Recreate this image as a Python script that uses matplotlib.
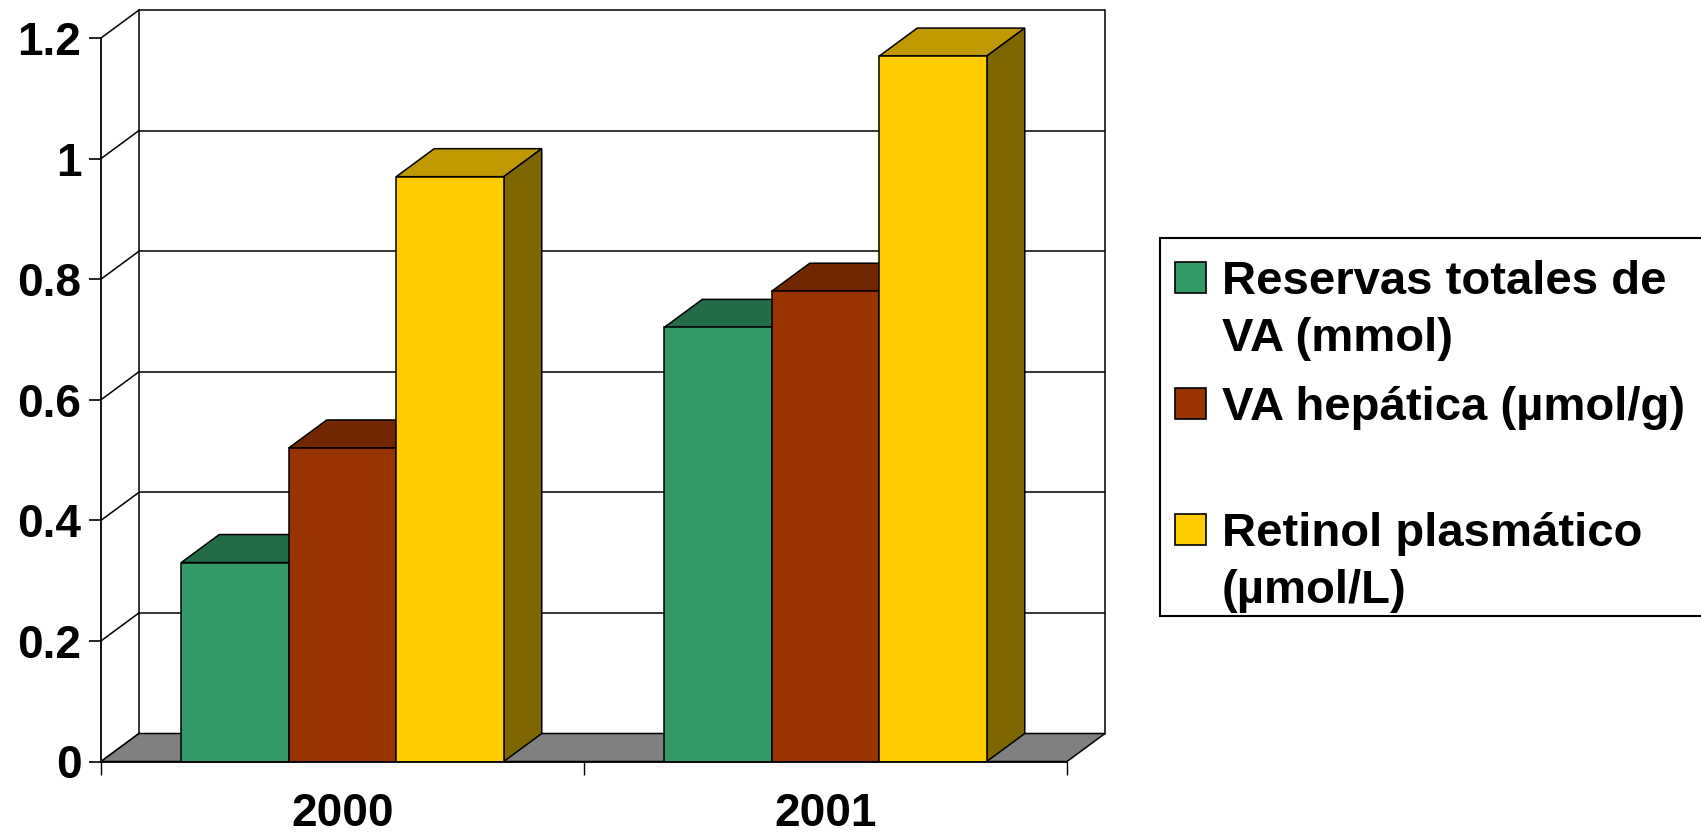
import matplotlib
matplotlib.use('Agg')
import matplotlib.pyplot as plt
from matplotlib.patches import Polygon, Rectangle
import numpy as np

# ---- data ----
categories = ['2000', '2001']
series_labels = [['Reservas totales de', 'VA (mmol)'],
                 ['VA hepática (µmol/g)'],
                 ['Retinol plasmático', '(µmol/L)']]
reservas = [0.33, 0.72]
hepatica = [0.52, 0.78]
retinol = [0.97, 1.17]
yticks = [0, 0.2, 0.4, 0.6, 0.8, 1.0, 1.2]
ytick_labels = ['0', '0.2', '0.4', '0.6', '0.8', '1', '1.2']

face_colors = ['#339966', '#993300', '#FFCC00']
top_colors = ['#246B47', '#722600', '#C09900']
side_colors = ['#1A4D33', '#4D1A00', '#806600']

plt.rcParams['font.family'] = ['Liberation Sans', 'DejaVu Sans']
plt.rcParams['font.weight'] = 'bold'

W, H = 1701, 835
fig = plt.figure(figsize=(W / 100, H / 100), dpi=100)

def fx(px):
    return px / W

def fy(py):
    return 1 - py / H

# geometry (pixels)
x_left, x_right = 101, 1067
y_zero, y_12 = 761.5, 38
dx_px, dy_px = 38, 28
px_per_x = (x_right - x_left) / 2.0
px_per_y = (y_zero - y_12) / 1.2
ddx = dx_px / px_per_x
ddy = dy_px / px_per_y

ax = fig.add_axes([fx(x_left), fy(y_zero), (x_right + dx_px - x_left) / W,
                   (y_zero - (y_12 - dy_px)) / H])
ax.set_xlim(-0.5, 1.5 + ddx)
ax.set_ylim(0, 1.2 + ddy)
ax.patch.set_visible(False)

lc = 'black'
# back wall gridlines
for v in yticks[1:]:
    ax.plot([-0.5 + ddx, 1.5 + ddx], [v + ddy, v + ddy], color=lc, lw=1.1,
            zorder=0.5, clip_on=False, solid_capstyle='butt')
# left wall diagonals
for v in yticks:
    ax.plot([-0.5, -0.5 + ddx], [v, v + ddy], color=lc, lw=1.1, zorder=0.6,
            clip_on=False)
ax.plot([-0.5 + ddx] * 2, [ddy, 1.2 + ddy], color=lc, lw=1.1, zorder=0.6, clip_on=False)
ax.plot([1.5 + ddx] * 2, [ddy, 1.2 + ddy], color=lc, lw=1.1, zorder=0.6, clip_on=False)

# floor
floor = Polygon([(-0.5, 0), (1.5, 0), (1.5 + ddx, ddy), (-0.5 + ddx, ddy)],
                closed=True, facecolor='#808080', edgecolor='black', lw=1.1,
                zorder=1, clip_on=False)
ax.add_patch(floor)

# bars
bw = 107.5 / px_per_x
xs = np.arange(len(categories))
for i, vals in enumerate([reservas, hepatica, retinol]):
    xp = xs + (i - 1) * bw
    z = 3 + i
    ax.bar(xp, vals, width=bw, color=face_colors[i], edgecolor='black',
           lw=1.1, zorder=z + 0.5)
    for x, v in zip(xp, vals):
        top = Polygon([(x - bw / 2, v), (x + bw / 2, v), (x + bw / 2 + ddx, v + ddy),
                       (x - bw / 2 + ddx, v + ddy)], closed=True,
                      facecolor=top_colors[i], edgecolor='black', lw=1.1, zorder=z)
        side = Polygon([(x + bw / 2, 0), (x + bw / 2 + ddx, ddy),
                        (x + bw / 2 + ddx, v + ddy), (x + bw / 2, v)], closed=True,
                       facecolor=side_colors[i], edgecolor='black', lw=1.1, zorder=z)
        ax.add_patch(top)
        ax.add_patch(side)

# spines / ticks
for s in ['top', 'right']:
    ax.spines[s].set_visible(False)
ax.spines['left'].set_bounds(0, 1.2)
ax.spines['bottom'].set_bounds(-0.5, 1.5)
ax.spines['left'].set_linewidth(1.3)
ax.spines['bottom'].set_linewidth(1.3)
ax.spines['left'].set_zorder(10)
ax.spines['bottom'].set_zorder(10)

ax.set_yticks(yticks)
ax.set_yticklabels(ytick_labels)
ax.tick_params(axis='y', direction='out', length=8.6, width=1.2, pad=5.5,
               labelsize=33)
ax.set_xticks([-0.5, 0.5, 1.5])
ax.set_xticklabels(['', '', ''])
ax.set_xticks(xs, minor=True)
ax.set_xticklabels(categories, minor=True)
ax.tick_params(axis='x', which='major', direction='out', length=9.5, width=1.0)
ax.tick_params(axis='x', which='minor', length=0, pad=22, labelsize=33)
for lab in ax.get_xticklabels(minor=True) + ax.get_yticklabels():
    lab.set_fontweight('bold')

# legend (manual)
box = Rectangle((fx(1160), fy(616)), (1712 - 1160) / W, (616 - 238) / H,
                transform=fig.transFigure, facecolor='white', edgecolor='black',
                lw=1.5)
fig.add_artist(box)
sq_tops = [262, 388, 514]
for i, lines in enumerate(series_labels):
    t = sq_tops[i]
    fig.add_artist(Rectangle((fx(1175), fy(t + 31)), 31 / W, 31 / H,
                             transform=fig.transFigure, facecolor=face_colors[i],
                             edgecolor='black', lw=1.2))
    for j, line in enumerate(lines):
        fig.text(fx(1222), fy(t + 32 + 57 * j), line, fontsize=34,
                 fontweight='bold', ha='left', va='baseline')

fig.savefig('out.png', dpi=100)
